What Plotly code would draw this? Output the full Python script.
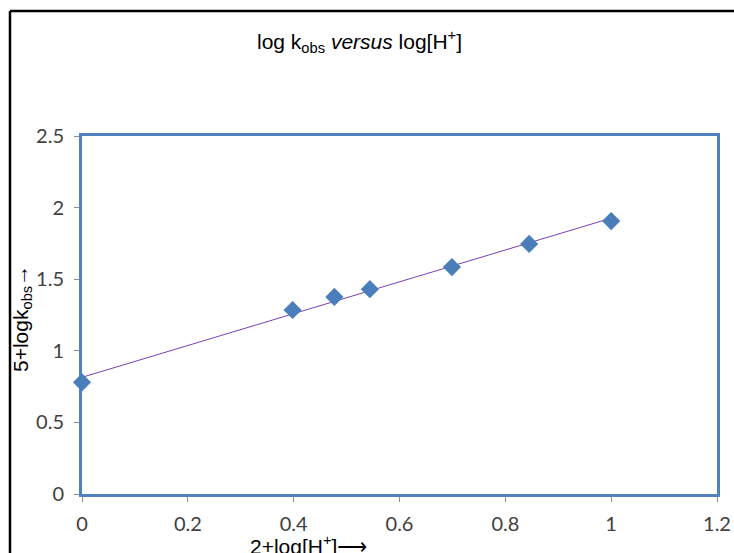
import numpy as np
import plotly.graph_objects as go

# Data
x_log_h = [0.0, 0.398, 0.477, 0.544, 0.699, 0.845, 1.0]
y_log_k = [0.78, 1.285, 1.376, 1.43, 1.585, 1.746, 1.906]
x_ticks = [0, 0.2, 0.4, 0.6, 0.8, 1, 1.2]
x_tick_labels = ["0", "0.2", "0.4", "0.6", "0.8", "1", "1.2"]
y_ticks = [0, 0.5, 1, 1.5, 2, 2.5]
y_tick_labels = ["0", "0.5", "1", "1.5", "2", "2.5"]

# Linear trendline (least-squares)
slope, intercept = np.polyfit(x_log_h, y_log_k, 1)
trend_x = [min(x_log_h), max(x_log_h)]
trend_y = [slope * v + intercept for v in trend_x]

W, H = 734, 553
L, R, T, B = 82, 17, 136, 59
PW, PH = W - L - R, H - T - B


def px(xpix):
    return (xpix - L) / PW


def py(ypix):
    return (H - B - ypix) / PH


fig = go.Figure()
fig.add_trace(go.Scatter(
    x=trend_x, y=trend_y, mode="lines",
    line=dict(color="#7B3FB0", width=1),
    hoverinfo="skip", showlegend=False, cliponaxis=False,
))
fig.add_trace(go.Scatter(
    x=x_log_h, y=y_log_k, mode="markers",
    marker=dict(symbol="diamond", size=14, color="#4A7EBB"),
    showlegend=False, cliponaxis=False,
))

tick_font = dict(family="Lato, 'Open Sans', sans-serif", size=20, color="#404040")
axis_common = dict(
    showline=True, linecolor="#4F81BD", linewidth=3, mirror=True,
    showgrid=False, zeroline=False,
    ticks="outside", ticklen=5, tickwidth=1, tickcolor="#8C8C8C",
    tickfont=tick_font, layer="below traces", automargin=False,
)
title_font = dict(family="Liberation Sans, Arial, sans-serif", size=21, color="#000000")

fig.update_layout(
    width=W, height=H, autosize=False,
    margin=dict(l=L, r=R, t=T, b=B, pad=0),
    paper_bgcolor="white", plot_bgcolor="white",
    xaxis=dict(range=[0, 1.2], tickvals=x_ticks, ticktext=x_tick_labels,
               ticklabelstandoff=5, **axis_common),
    yaxis=dict(range=[0, 2.5], tickvals=y_ticks, ticktext=y_tick_labels,
               ticklabelstandoff=6, **axis_common),
    annotations=[
        dict(text="log k<sub>obs</sub> <i>versus</i> log[H<sup>+</sup>]",
             xref="paper", yref="paper", x=px(359), y=py(41),
             xanchor="center", yanchor="middle", showarrow=False, font=title_font),
        dict(text="5+logk<sub>obs</sub>→",
             xref="paper", yref="paper", x=px(22), y=py(319),
             xanchor="center", yanchor="middle", showarrow=False, textangle=-90,
             font=title_font),
        dict(text="2+log[H<sup>+</sup>]⟶",
             xref="paper", yref="paper", x=px(308), y=py(545),
             xanchor="center", yanchor="middle", showarrow=False, font=title_font),
    ],
    shapes=[
        dict(type="line", xref="paper", yref="paper",
             x0=px(10), x1=px(10), y0=py(H), y1=py(11),
             line=dict(color="black", width=2.5), layer="above"),
        dict(type="line", xref="paper", yref="paper",
             x0=px(10), x1=px(W), y0=py(11), y1=py(11),
             line=dict(color="black", width=2.5), layer="above"),
    ],
)

fig.write_html("out.html")
